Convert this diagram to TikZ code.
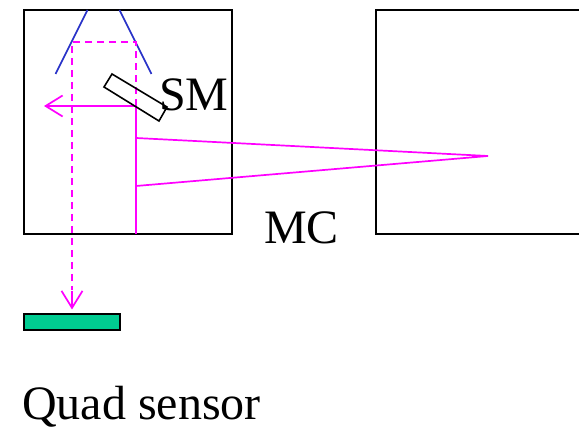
\documentclass[tikz,border=0pt]{standalone}
\usepackage{fontspec}
\setmainfont{Liberation Serif}
\usepackage{xcolor}
\usepackage{tikz}
\usetikzlibrary{arrows.meta}
\definecolor{sensorgreen}{RGB}{0, 204, 145}
\definecolor{beamblue}{RGB}{40, 50, 200}
\definecolor{beammagenta}{RGB}{255, 0, 255}
\tikzset{
    beam/.style={draw=beammagenta, line width=1.7pt},
    beamhead/.style={-{Straight Barb[length=17pt,width=21pt,line width=1.7pt]}},
    outline/.style={line width=1.6pt},
    label/.style={inner sep=0pt, anchor=base west, font=\fontsize{48}{52}\selectfont}
}

\begin{document}
\begin{tikzpicture}[x=1pt, y=-1pt]
    \useasboundingbox (0,0) rectangle (579,427);

    % Boxes
    \draw[outline] (24,10) rectangle (232,234);
    \draw[outline] (579,10) -- (376,10) -- (376,234) -- (579,234);

    % Blue mirrors
    \draw[beamblue, outline] (87.5,10) -- (55.5,74);
    \draw[beamblue, outline] (119.5,10) -- (151.5,74);

    % Dashed return path
    \draw[beam, dash pattern=on 7pt off 5pt] (136,106) -- (136,42) -- (72,42) -- (72,290);
    \draw[beam, beamhead] (72,291) -- (72,309.5);

    % Solid beam
    \draw[beam] (136,234) -- (136,106);
    \draw[beam, beamhead] (136,106) -- (44,106);
    \draw[beam] (136,138) -- (488,156) -- (136,186);

    % Steering mirror
    \draw[outline] (112,74) -- (104,87) -- (159,121) -- (167,107) -- cycle;

    % Sensor
    \draw[fill=sensorgreen, outline] (24,314) rectangle (120,330);

    % Labels
    \node[label] (sm) at (159,111) {SM};
    \node[label] (mc) at (264,244) {MC};
    \node[label] (quad) at (22,420) {Quad sensor};
\end{tikzpicture}
\end{document}
